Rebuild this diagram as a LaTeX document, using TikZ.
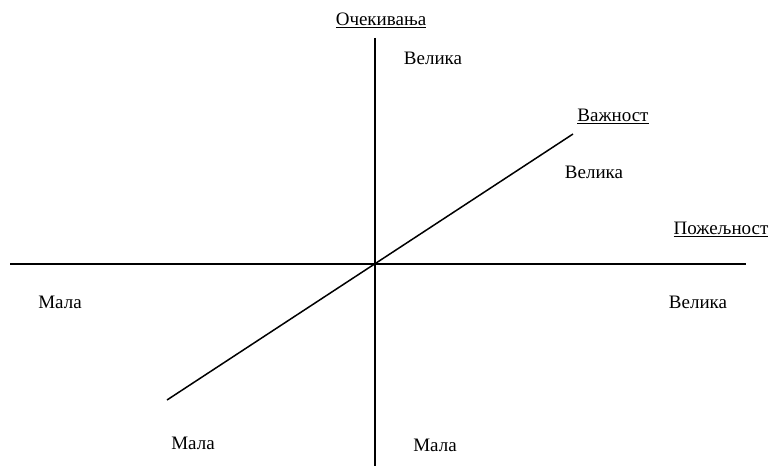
\documentclass[tikz,border=0pt]{standalone}
\usepackage{fontspec}
\setmainfont{Liberation Serif}
\begin{document}
\begin{tikzpicture}[x=1pt,y=-1pt,
  lbl/.style={font=\fontsize{19}{23}\selectfont, inner sep=0pt, anchor=center},
  axis/.style={line width=1.5pt, black}]
\useasboundingbox (0,0) rectangle (773,468);
\coordinate (hl) at (10,264);
\coordinate (hr) at (746,264);
\coordinate (vt) at (375,38);
\coordinate (vb) at (375,466);
\coordinate (dl) at (167,400);
\coordinate (dr) at (573,134);
\draw[axis] (hl) -- (hr);
\draw[axis] (vt) -- (vb);
\draw[axis] (dl) -- (dr);
\node[lbl] (ocek) at (381,20) {\underline{Очекивања}};
\node[lbl] (velt) at (433,58) {Велика};
\node[lbl] (vazn) at (613,116) {\underline{Важност}};
\node[lbl] (veld) at (594,172) {Велика};
\node[lbl] (poz) at (721,229) {\underline{Пожељност}};
\node[lbl] (velr) at (698,302) {Велика};
\node[lbl] (mall) at (60,302) {Мала};
\node[lbl] (maldl) at (193,443) {Мала};
\node[lbl] (malb) at (435,445) {Мала};
\end{tikzpicture}
\end{document}
